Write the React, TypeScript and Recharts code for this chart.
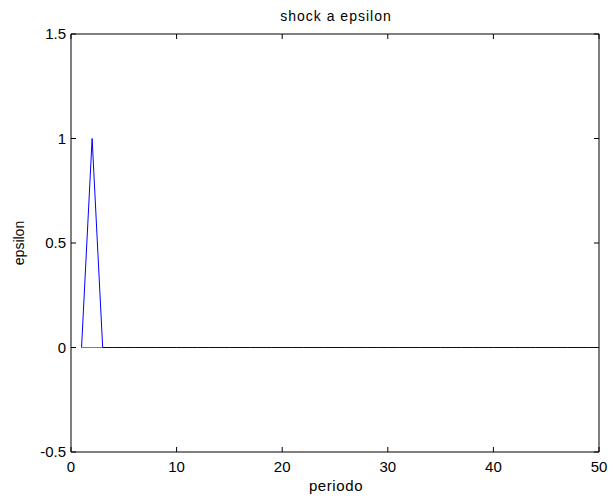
import React from 'react';
import { LineChart, Line, XAxis, YAxis, Customized } from 'recharts';

const periods = [1,2,3,4,5,6,7,8,9,10,11,12,13,14,15,16,17,18,19,20,21,22,23,24,25,26,27,28,29,30,31,32,33,34,35,36,37,38,39,40,41,42,43,44,45,46,47,48,49,50];
const epsilon = [0,1,0,0,0,0,0,0,0,0,0,0,0,0,0,0,0,0,0,0,0,0,0,0,0,0,0,0,0,0,0,0,0,0,0,0,0,0,0,0,0,0,0,0,0,0,0,0,0,0];
const zeroLine = [0,0,0,0,0,0,0,0,0,0,0,0,0,0,0,0,0,0,0,0,0,0,0,0,0,0,0,0,0,0,0,0,0,0,0,0,0,0,0,0,0,0,0,0,0,0,0,0,0,0];
const xTicks = [0, 10, 20, 30, 40, 50];
const yTicks = [-0.5, 0, 0.5, 1, 1.5];
const title = 'shock a epsilon';
const xLabel = 'periodo';
const yLabel = 'epsilon';

const data = periods.map((p, i) => ({ p, eps: epsilon[i], zero: zeroLine[i] }));

const FONT = '"Liberation Sans", Arial, Helvetica, sans-serif';
const TL = 5;

const BottomTick = (props: any) => {
  const { x, y, payload } = props;
  return (
    <g>
      <line x1={x} x2={x} y1={y} y2={y - TL} stroke="#000" />
      <text x={x} y={y + 20} textAnchor="middle" fontFamily={FONT} fontSize={15} fill="#000">{payload.value}</text>
    </g>
  );
};
const TopTick = (props: any) => {
  const { x, y } = props;
  return <line x1={x} x2={x} y1={y} y2={y + TL} stroke="#000" />;
};
const LeftTick = (props: any) => {
  const { x, y, payload } = props;
  return (
    <g>
      <line x1={x} x2={x + TL} y1={y} y2={y} stroke="#000" />
      <text x={x - 5} y={y} dy="0.36em" textAnchor="end" fontFamily={FONT} fontSize={15} fill="#000">{String(payload.value)}</text>
    </g>
  );
};
const RightTick = (props: any) => {
  const { x, y } = props;
  return <line x1={x} x2={x - TL} y1={y} y2={y} stroke="#000" />;
};

const Texts = () => (
  <g fontFamily={FONT} fill="#000">
    <text x={336} y={21} textAnchor="middle" fontSize={14} letterSpacing={1}>{title}</text>
    <text x={336} y={491} textAnchor="middle" fontSize={15} letterSpacing={0.6}>{xLabel}</text>
    <text x={24} y={243} textAnchor="middle" fontSize={14} transform="rotate(-90, 24, 243)">{yLabel}</text>
  </g>
);

export default function App() {
  return (
    <div style={{ position: 'absolute', left: 0, top: 0, background: '#fff' }}>
      <LineChart width={613} height={502} data={data} margin={{ top: 4, right: 0, bottom: 20, left: 11 }}>
        <XAxis xAxisId="b" dataKey="p" type="number" domain={[0, 50]} ticks={xTicks} orientation="bottom" height={30}
          axisLine={{ stroke: '#000' }} tickLine={false} tickSize={0} tickMargin={0} tick={<BottomTick />} interval={0} />
        <XAxis xAxisId="t" dataKey="p" type="number" domain={[0, 50]} ticks={xTicks} orientation="top" height={30}
          axisLine={{ stroke: '#000' }} tickLine={false} tickSize={0} tickMargin={0} tick={<TopTick />} interval={0} />
        <YAxis yAxisId="l" type="number" domain={[-0.5, 1.5]} ticks={yTicks} orientation="left" width={60}
          axisLine={{ stroke: '#000' }} tickLine={false} tickSize={0} tickMargin={0} tick={<LeftTick />} interval={0} />
        <YAxis yAxisId="r" type="number" domain={[-0.5, 1.5]} ticks={yTicks} orientation="right" width={14}
          axisLine={{ stroke: '#000' }} tickLine={false} tickSize={0} tickMargin={0} tick={<RightTick />} interval={0} />
        <Line xAxisId="b" yAxisId="l" dataKey="eps" stroke="#0000ff" strokeWidth={1} dot={false} isAnimationActive={false} />
        <Line xAxisId="t" yAxisId="r" dataKey="zero" stroke="#000" strokeOpacity={0.5} strokeWidth={1} dot={false} isAnimationActive={false} />
        <Customized component={Texts} />
      </LineChart>
    </div>
  );
}
